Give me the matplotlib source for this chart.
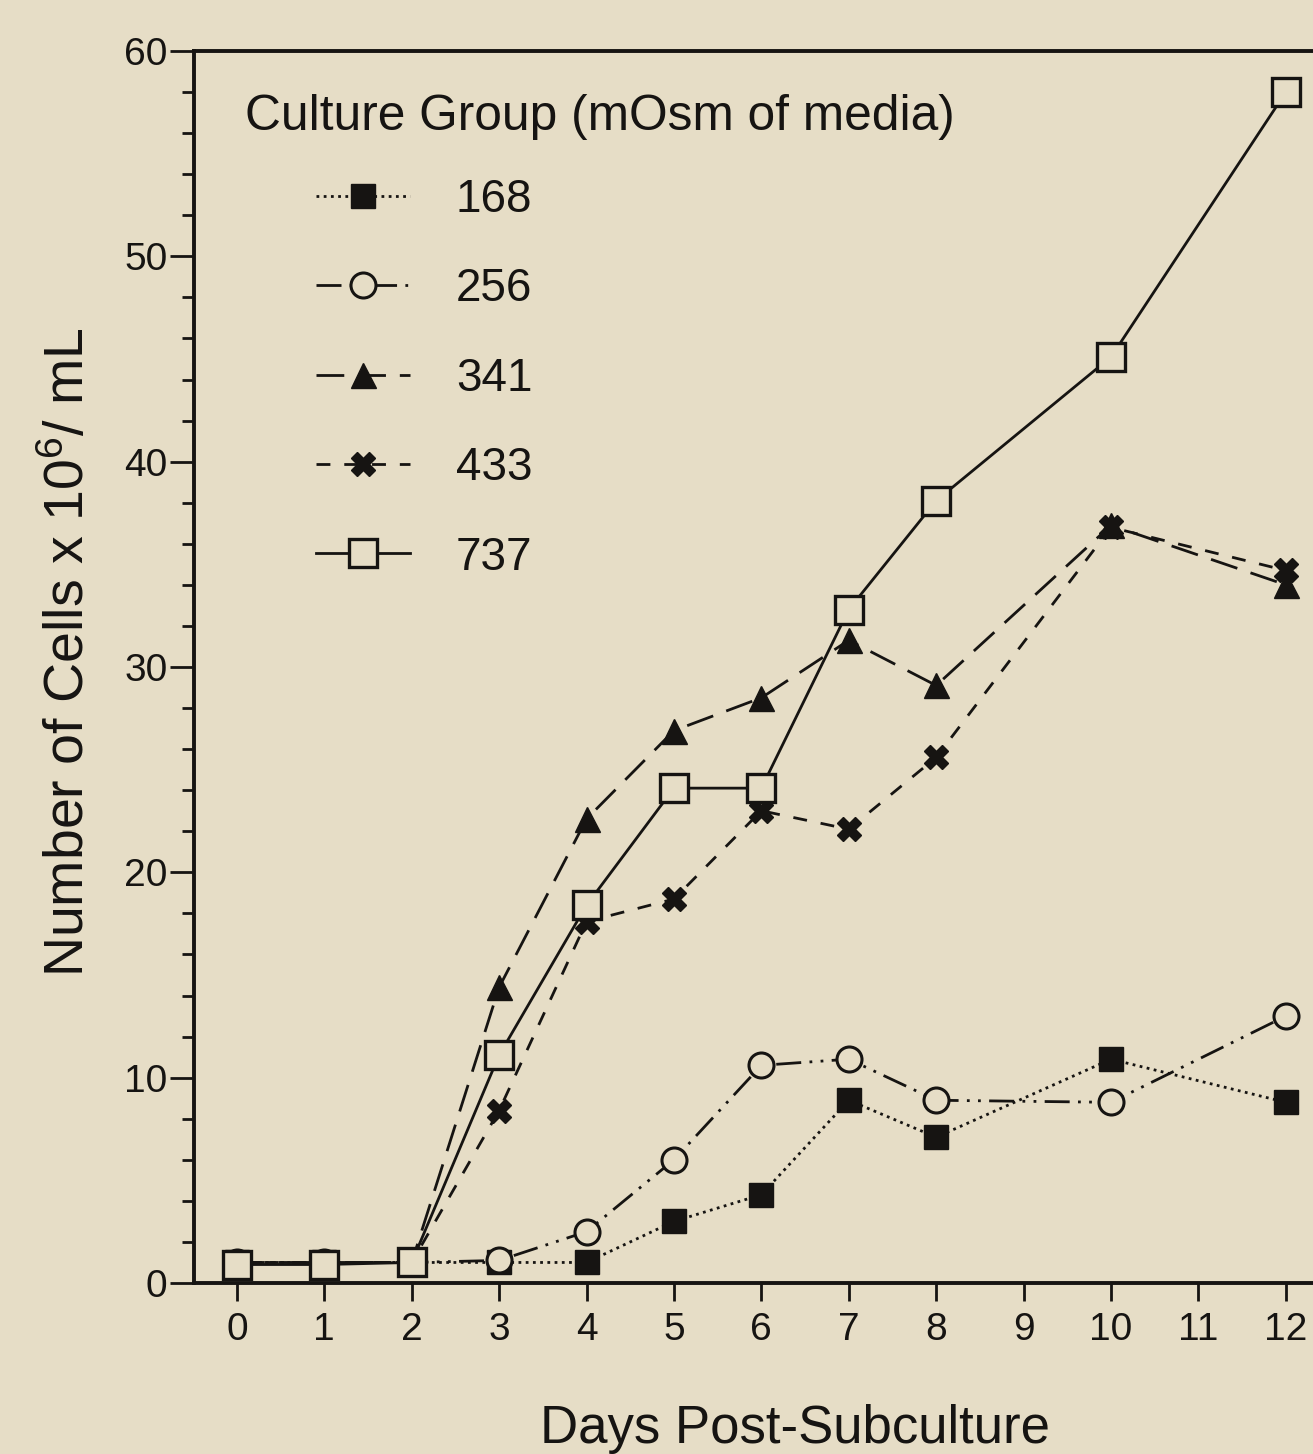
import matplotlib
matplotlib.use("Agg")
import matplotlib.pyplot as plt
from matplotlib.ticker import MultipleLocator

plt.rcParams["font.family"] = ["Liberation Sans", "DejaVu Sans"]
plt.rcParams["mathtext.fontset"] = "custom"
plt.rcParams["mathtext.rm"] = "Liberation Sans"
plt.rcParams["mathtext.it"] = "Liberation Sans"

BG = "#e6ddc6"
INK = "#161412"

# days sampled (no samples on day 9 or 11)
days = [0, 1, 2, 3, 4, 5, 6, 7, 8, 10, 12]
cells_168 = [1.0, 1.0, 1.0, 1.0, 1.0, 3.0, 4.3, 8.9, 7.1, 10.9, 8.8]
cells_256 = [1.0, 1.0, 1.0, 1.1, 2.5, 6.0, 10.6, 10.9, 8.9, 8.8, 13.0]
cells_341 = [1.0, 1.0, 1.0, 14.4, 22.6, 26.9, 28.5, 31.3, 29.1, 36.9, 34.0]
cells_433 = [1.0, 1.0, 1.0, 8.4, 17.6, 18.7, 23.0, 22.1, 25.6, 36.8, 34.7]
cells_737 = [0.9, 0.9, 1.0, 11.1, 18.4, 24.1, 24.1, 32.8, 38.1, 45.1, 58.0]
group_labels = ["168", "256", "341", "433", "737"]

W, H = 1313, 1454
fig = plt.figure(figsize=(W / 100, H / 100), dpi=100, facecolor=BG)
ax = fig.add_axes([194 / W, 1 - 1283 / H, 1 - 194 / W, (1283 - 51) / H])
ax.set_facecolor(BG)

lw = 2.0
ms = 20
series = [
    (cells_168, dict(linestyle=(0, (1, 1.6)), marker="s", mfc=INK, ms=ms - 3)),
    (cells_256, dict(linestyle=(0, (9, 3, 1, 3, 1, 3)), marker="o", mfc=BG, ms=ms - 2, mew=2.2)),
    (cells_341, dict(linestyle=(0, (10, 5)), marker="^", mfc=INK, ms=ms - 2)),
    (cells_433, dict(linestyle=(0, (5, 5)), marker="X", mfc=INK, ms=ms - 3)),
    (cells_737, dict(linestyle="-", marker="s", mfc=BG, ms=ms, mew=2.4)),
]
for (vals, style), lab in zip(series, group_labels):
    ax.plot(days, vals, color=INK, mec=INK, lw=lw, label=lab, **style)

ax.set_xlim(-0.49, 12.31)
ax.set_ylim(0, 60)
ax.set_xticks(range(0, 13))
ax.yaxis.set_major_locator(MultipleLocator(10))
ax.yaxis.set_minor_locator(MultipleLocator(2))
ax.tick_params(axis="both", which="major", direction="out", width=2, color=INK,
               labelcolor=INK, labelsize=28)
ax.tick_params(axis="x", which="major", length=13, pad=8)
ax.tick_params(axis="y", which="major", length=17, pad=2)
ax.tick_params(axis="y", which="minor", length=9, width=2, color=INK)
ax.spines["right"].set_visible(False)
for s in ["left", "bottom", "top"]:
    ax.spines[s].set_linewidth(2.8)
    ax.spines[s].set_color(INK)

fig.text(70 / W, 1 - 652 / H, r"Number of Cells x 10$^{6}$/ mL", rotation=90,
         ha="center", va="center", fontsize=40, color=INK)
fig.text(795 / W, 1 - 1443 / H, "Days Post-Subculture", ha="center", va="baseline",
         fontsize=38, color=INK)
fig.text(245 / W, 1 - 130 / H, "Culture Group (mOsm of media)", ha="left",
         va="baseline", fontsize=35.7, color=INK)

leg = ax.legend(loc="upper left", bbox_to_anchor=(316 / W, 1 - 178 / H),
                bbox_transform=fig.transFigure, frameon=False, fontsize=33,
                handlelength=2.05, handletextpad=1.0, labelspacing=0.99,
                borderpad=0, borderaxespad=0, labelcolor=INK)

fig.savefig("out.png", dpi=100, facecolor=BG)
